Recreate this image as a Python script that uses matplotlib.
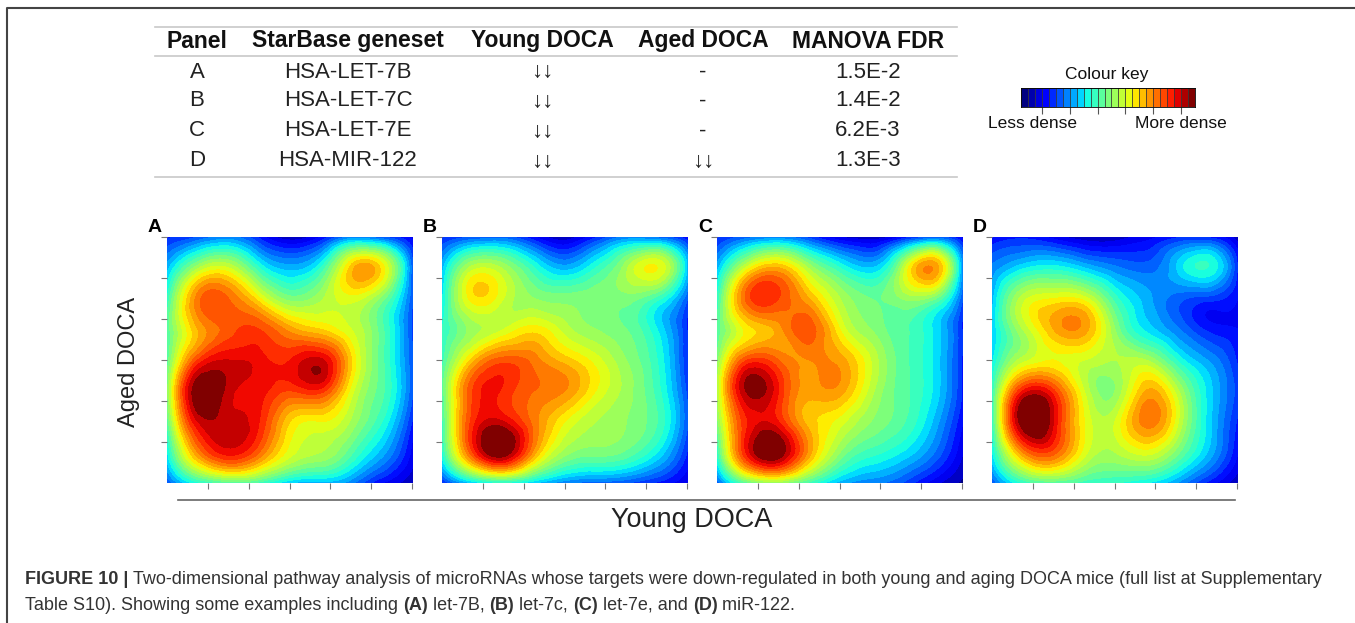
import numpy as np
import matplotlib
matplotlib.use("Agg")
import matplotlib.pyplot as plt
import matplotlib.tri as mtri
from matplotlib.lines import Line2D

W, H = 1355, 623

# Table contents
table_header = ["Panel", "StarBase geneset", "Young DOCA", "Aged DOCA", "MANOVA FDR"]
panels = ["A", "B", "C", "D"]
genesets = ["HSA-LET-7B", "HSA-LET-7C", "HSA-LET-7E", "HSA-MIR-122"]
young_doca = ["\u2193\u2193", "\u2193\u2193", "\u2193\u2193", "\u2193\u2193"]
aged_doca = ["-", "-", "-", "\u2193\u2193"]
manova_fdr = ["1.5E-2", "1.4E-2", "6.2E-3", "1.3E-3"]

# Relative density on a 9x9 grid
# rows: top (Aged high) to bottom, columns: left (Young low) to right
dens_a = [
    [0.15, 0.20, 0.25, 0.15, 0.05, 0.12, 0.25, 0.20, 0.10],
    [0.30, 0.55, 0.60, 0.40, 0.30, 0.40, 0.70, 0.66, 0.20],
    [0.40, 0.78, 0.80, 0.65, 0.50, 0.55, 0.62, 0.50, 0.20],
    [0.45, 0.72, 0.82, 0.84, 0.74, 0.68, 0.60, 0.45, 0.18],
    [0.45, 0.84, 0.92, 0.90, 0.88, 0.93, 0.68, 0.45, 0.20],
    [0.50, 1.00, 0.94, 0.90, 0.84, 0.86, 0.62, 0.45, 0.20],
    [0.45, 0.92, 0.94, 0.88, 0.68, 0.64, 0.55, 0.40, 0.15],
    [0.35, 0.76, 0.90, 0.80, 0.62, 0.56, 0.45, 0.30, 0.10],
    [0.20, 0.38, 0.45, 0.42, 0.32, 0.30, 0.25, 0.12, 0.05],
]
dens_b = [
    [0.15, 0.20, 0.22, 0.12, 0.05, 0.15, 0.25, 0.22, 0.12],
    [0.30, 0.58, 0.55, 0.40, 0.30, 0.40, 0.55, 0.64, 0.30],
    [0.35, 0.66, 0.60, 0.52, 0.50, 0.50, 0.50, 0.42, 0.20],
    [0.40, 0.54, 0.60, 0.66, 0.58, 0.52, 0.48, 0.36, 0.15],
    [0.42, 0.70, 0.82, 0.78, 0.70, 0.62, 0.52, 0.40, 0.15],
    [0.45, 0.84, 0.87, 0.80, 0.76, 0.64, 0.54, 0.42, 0.18],
    [0.42, 0.86, 0.92, 0.78, 0.64, 0.56, 0.52, 0.44, 0.20],
    [0.38, 0.84, 1.00, 0.74, 0.54, 0.50, 0.47, 0.36, 0.15],
    [0.15, 0.32, 0.38, 0.32, 0.25, 0.22, 0.20, 0.15, 0.08],
]
dens_c = [
    [0.15, 0.22, 0.25, 0.18, 0.08, 0.05, 0.12, 0.20, 0.10],
    [0.30, 0.62, 0.72, 0.55, 0.40, 0.32, 0.55, 0.76, 0.25],
    [0.40, 0.82, 0.84, 0.72, 0.56, 0.48, 0.52, 0.50, 0.20],
    [0.45, 0.66, 0.74, 0.82, 0.64, 0.52, 0.45, 0.36, 0.15],
    [0.50, 0.84, 0.80, 0.76, 0.74, 0.60, 0.46, 0.36, 0.15],
    [0.55, 0.97, 0.88, 0.74, 0.74, 0.58, 0.46, 0.36, 0.15],
    [0.50, 0.88, 0.88, 0.70, 0.62, 0.52, 0.45, 0.32, 0.12],
    [0.40, 0.90, 1.00, 0.74, 0.52, 0.42, 0.36, 0.25, 0.08],
    [0.20, 0.46, 0.52, 0.42, 0.30, 0.25, 0.20, 0.10, 0.03],
]
dens_d = [
    [0.12, 0.15, 0.10, 0.05, 0.05, 0.10, 0.15, 0.15, 0.05],
    [0.25, 0.35, 0.38, 0.32, 0.25, 0.22, 0.32, 0.40, 0.15],
    [0.30, 0.58, 0.64, 0.62, 0.42, 0.30, 0.22, 0.18, 0.12],
    [0.32, 0.56, 0.72, 0.74, 0.52, 0.35, 0.25, 0.15, 0.12],
    [0.35, 0.58, 0.64, 0.60, 0.56, 0.56, 0.40, 0.28, 0.15],
    [0.40, 0.88, 0.85, 0.60, 0.52, 0.72, 0.58, 0.35, 0.18],
    [0.40, 1.00, 0.92, 0.64, 0.60, 0.78, 0.62, 0.35, 0.15],
    [0.35, 0.76, 0.82, 0.62, 0.56, 0.62, 0.50, 0.32, 0.12],
    [0.20, 0.40, 0.45, 0.42, 0.40, 0.36, 0.28, 0.15, 0.05],
]

n_levels = 25
tick_pos = [1, 2, 3, 4, 5, 6]

plt.rcParams['font.family'] = ['Liberation Sans', 'DejaVu Sans']


def px(x, y):
    return x / W, 1 - y / H


def rect(l, t, r, b):
    return [l / W, 1 - b / H, (r - l) / W, (b - t) / H]


fig = plt.figure(figsize=(W / 100, H / 100), dpi=100)

# outer border (top and left only)
fig.add_artist(Line2D([7 / W, 7 / W, 1], [0, 1 - 8 / H, 1 - 8 / H], color="#444444", lw=1.5))

# table
col_x = [197, 348, 542, 703, 868]
for x, txt in zip(col_x, table_header):
    fig.text(*px(x, 41), txt, ha="center", va="center", fontsize=16.5, fontweight="bold", color="#111111")
row_y = [72, 101, 131, 161]
for i, y in enumerate(row_y):
    vals = [panels[i], genesets[i], young_doca[i], aged_doca[i], manova_fdr[i]]
    for x, txt in zip(col_x, vals):
        fig.text(*px(x, y), txt, ha="center", va="center", fontsize=16, color="#222222")
for y in [27, 56, 177]:
    fig.add_artist(Line2D([155 / W, 957 / W], [1 - y / H] * 2, color="#c8c8c8", lw=1.2))

# colour key
cax = fig.add_axes(rect(1021, 88, 1195, 107))
cmap = plt.get_cmap("jet")
cols = cmap(np.linspace(0, 1, n_levels))
for i in range(n_levels):
    cax.bar(i, 1, width=1, color=cols[i], edgecolor="#333333", linewidth=0.5, align="edge")
cax.set_xlim(0, n_levels)
cax.set_ylim(0, 1)
cax.set_yticks([])
key_ticks = [(1042 - 1021) / 174 * n_levels + k * (27.8 / 174 * n_levels) for k in range(6)]
cax.set_xticks(key_ticks)
cax.set_xticklabels([])
cax.tick_params(axis="x", length=5, color="#555555", width=0.8)
for s in cax.spines.values():
    s.set_linewidth(0.6)
fig.text(*px(1107, 75), "Colour key", ha="center", va="center", fontsize=12.5, color="#111111")
fig.text(*px(1032, 123), "Less dense", ha="center", va="center", fontsize=12.5, color="#111111")
fig.text(*px(1181, 123), "More dense", ha="center", va="center", fontsize=12.5, color="#111111")

# density panels (smooth rendering through matplotlib's tri refiner)
panel_left = [167, 442, 717, 992]
levels = np.linspace(0, 1.0, n_levels + 1)
levels[0], levels[-1] = -1, 2
for lbl, left, dens in zip(panels, panel_left, [dens_a, dens_b, dens_c, dens_d]):
    ax = fig.add_axes(rect(left, 237, left + 246, 483))
    z = np.array(dens)[::-1]
    gx = np.linspace(0, 6.02, z.shape[1])
    gy = np.linspace(0, 6.0, z.shape[0])
    xx, yy = np.meshgrid(gx, gy)
    tri = mtri.Triangulation(xx.ravel(), yy.ravel())
    refiner = mtri.UniformTriRefiner(tri)
    tri_f, z_f = refiner.refine_field(z.ravel(), subdiv=4)
    ax.tricontourf(tri_f, z_f, levels=levels, cmap=cmap, vmin=0, vmax=1)
    ax.set_xlim(0, 6.02)
    ax.set_ylim(0, 6.0)
    ax.set_xticks(tick_pos)
    ax.set_yticks(tick_pos)
    ax.set_xticklabels([])
    ax.set_yticklabels([])
    ax.tick_params(length=4, color="#777777", width=0.8)
    for s in ax.spines.values():
        s.set_visible(False)
    fig.text(*px(left - 12, 228), lbl, ha="center", va="center", fontsize=14, fontweight="bold")

# shared axis labels
fig.add_artist(Line2D([178 / W, 1235 / W], [1 - 500 / H] * 2, color="#666666", lw=1.2))
fig.text(*px(692, 520), "Young DOCA", ha="center", va="center", fontsize=19.5, color="#222222")
fig.text(*px(129, 362), "Aged DOCA", ha="center", va="center", fontsize=17, rotation=90, color="#222222")

# caption with mixed weights
renderer = fig.canvas.get_renderer()


def draw_line(x0, y, parts):
    x = x0
    for txt, bold in parts:
        t = fig.text(*px(x, y), txt, ha="left", va="center", fontsize=13,
                     fontweight="bold" if bold else "normal", color="#333333")
        bb = t.get_window_extent(renderer)
        x += bb.width


draw_line(25, 580, [("FIGURE 10 | ", True),
                    ("Two-dimensional pathway analysis of microRNAs whose targets were down-regulated in both young and aging DOCA mice (full list at Supplementary", False)])
draw_line(25, 605, [("Table S10). Showing some examples including ", False), ("(A)", True), (" let-7B, ", False),
                    ("(B)", True), (" let-7c, ", False), ("(C)", True), (" let-7e, and ", False),
                    ("(D)", True), (" miR-122.", False)])

fig.savefig("out.png", dpi=100)
